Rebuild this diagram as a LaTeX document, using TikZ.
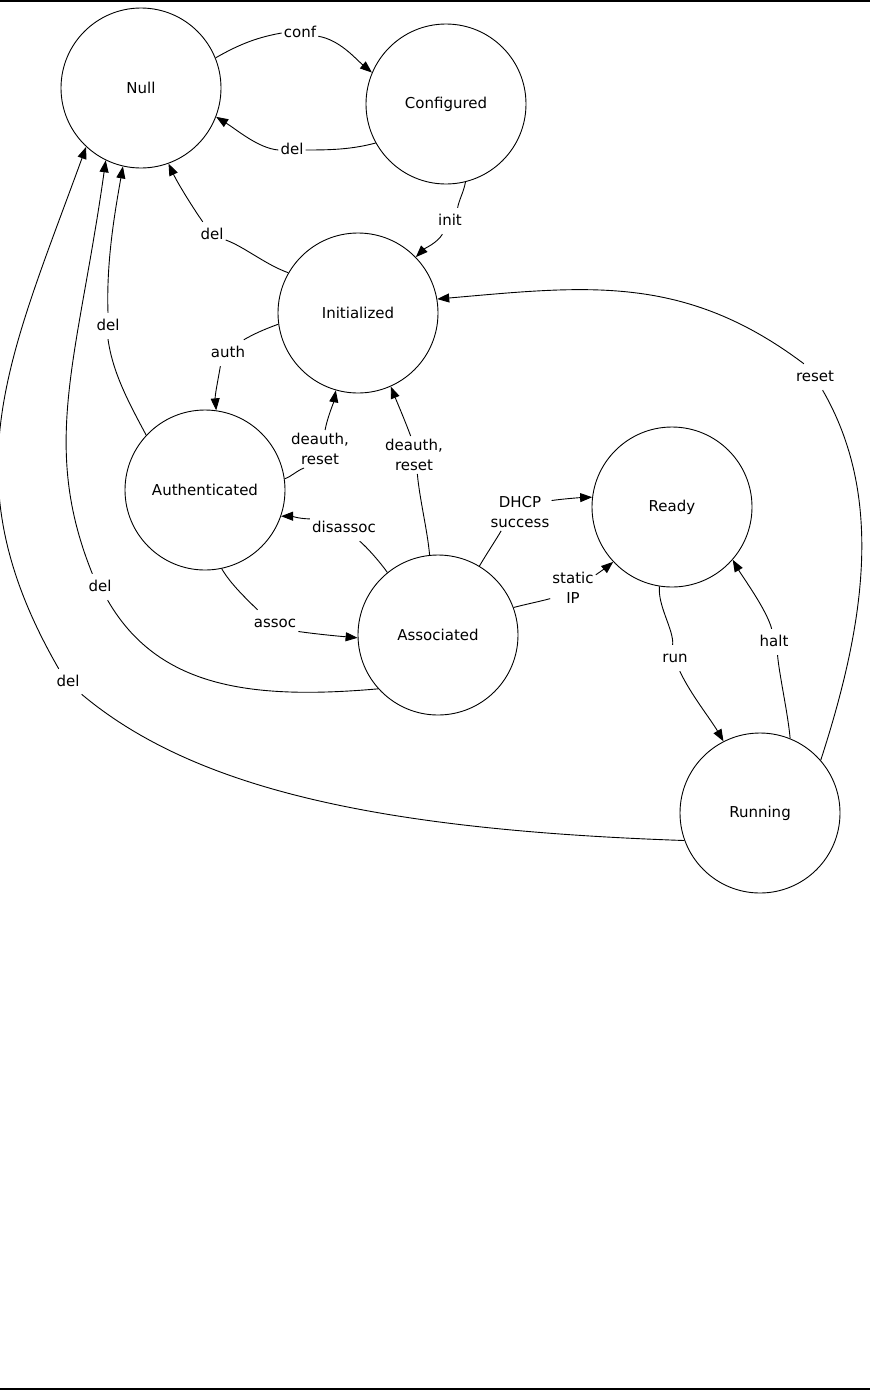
\documentclass[tikz,border=0pt]{standalone}
\usepackage{fontspec}
\setmainfont{DejaVu Sans}
\usetikzlibrary{arrows.meta}
\begin{document}
\begin{tikzpicture}[x=1pt,y=1pt,
  state/.style={draw, circle, minimum size=160pt, inner sep=0pt, line width=0.9pt, font=\fontsize{15}{18}\selectfont},
  lbl/.style={inner xsep=2pt, inner ysep=5pt, text height=12pt, text depth=4pt, font=\fontsize{15}{18}\selectfont},
  lbltwo/.style={inner xsep=2pt, inner ysep=3pt, align=center, font=\fontsize{15}{20}\selectfont},
  edge/.style={line width=0.9pt},
  arr/.style={edge, -{Triangle[length=12pt,width=9pt]}},
]
\useasboundingbox (0,0) rectangle (870,-1390);
\fill (0,0) rectangle (870,-2);
\fill (0,-1388) rectangle (870,-1390);

% states
\node[state] (Null) at (141,-88) {Null};
\node[state] (Configured) at (446,-104) {Configured};
\node[state] (Initialized) at (358,-313) {Initialized};
\node[state] (Authenticated) at (205,-490) {Authenticated};
\node[state] (Associated) at (438,-635) {Associated};
\node[state] (Ready) at (672,-507) {Ready};
\node[state] (Running) at (760,-813) {Running};

% labels
\node[lbl] (lconf) at (300,-33) {conf};
\node[lbl] (ldel1) at (292,-150) {del};
\node[lbl] (linit) at (450,-221) {init};
\node[lbl] (ldel2) at (212,-235) {del};
\node[lbl] (lauth) at (228,-353) {auth};
\node[lbl] (ldel3) at (108,-326) {del};
\node[lbl] (ldel4) at (100,-587) {del};
\node[lbl] (ldel5) at (68,-682) {del};
\node[lbltwo] (ldeauthA) at (320,-449) {deauth,\\reset};
\node[lbltwo] (ldeauthB) at (414,-455) {deauth,\\reset};
\node[lbl] (ldis) at (344,-528) {disassoc};
\node[lbl] (lassoc) at (275,-623) {assoc};
\node[lbltwo] (ldhcp) at (520,-512) {DHCP\\success};
\node[lbltwo] (lstatic) at (573,-588) {static\\IP};
\node[lbl] (lrun) at (675,-658) {run};
\node[lbl] (lhalt) at (774,-642) {halt};
\node[lbl] (lreset) at (815,-377) {reset};

% conf
\draw[edge] (Null.22) .. controls +(30:30) and +(190:22) .. (lconf.west);
\draw[arr] (lconf.-10) .. controls +(-10:22) and +(140:22) .. (Configured.157);
% del Configured -> Null
\draw[edge] (Configured.209) .. controls +(195:25) and +(0:25) .. (ldel1.east);
\draw[arr] (ldel1.west) .. controls +(175:20) and +(-32:25) .. (Null.-21);
% init
\draw[edge] (Configured.-76) .. controls +(-100:10) and +(80:8) .. (linit.60);
\draw[arr] (linit.-120) .. controls +(-120:10) and +(45:12) .. (Initialized.44);
% del Initialized -> Null
\draw[edge] (Initialized.150) .. controls +(160:25) and +(-20:20) .. (ldel2.-20);
\draw[arr] (ldel2.125) .. controls +(125:20) and +(-65:20) .. (Null.-70);
% auth
\draw[edge] (Initialized.188) .. controls +(200:15) and +(30:12) .. (lauth.40);
\draw[arr] (lauth.-120) .. controls +(-100:15) and +(95:15) .. (Authenticated.82);
% del Authenticated -> Null
\draw[edge] (Authenticated.137) .. controls +(118:35) and +(-82:35) .. (ldel3.south);
\draw[arr] (ldel3.north) .. controls +(92:50) and +(-100:50) .. (Null.-103);
% del Associated -> Null
\draw[edge] (Associated.222) .. controls +(185:130) and +(-60:100) .. (ldel4.-60);
\draw[arr] (ldel4.120) .. controls +(112:140) and +(262:200) .. (Null.244);
% del Running -> Null
\draw[edge] (Running.200) .. controls +(178:300) and +(-40:150) .. (ldel5.-42);
\draw[arr] (ldel5.125) .. controls +(120:220) and +(250:230) .. (Null.227);
% deauth, reset Authenticated -> Initialized
\draw[edge] (Authenticated.8) .. controls +(20:8) and +(200:8) .. (ldeauthA.-130);
\draw[arr] (ldeauthA.75) .. controls +(80:12) and +(-100:12) .. (Initialized.254);
% deauth, reset Associated -> Initialized
\draw[edge] (Associated.96) .. controls +(95:25) and +(-85:25) .. (ldeauthB.-80);
\draw[arr] (ldeauthB.100) .. controls +(110:15) and +(-68:15) .. (Initialized.-66);
% disassoc
\draw[edge] (Associated.129) .. controls +(125:12) and +(-40:10) .. (ldis.-40);
\draw[arr] (ldis.165) .. controls +(180:10) and +(0:10) .. (Authenticated.-19);
% assoc
\draw[edge] (Authenticated.-78) .. controls +(-60:18) and +(135:15) .. (lassoc.143);
\draw[arr] (lassoc.-20) .. controls +(-8:20) and +(175:20) .. (Associated.182);
% DHCP success
\draw[edge] (Associated.59) .. controls +(60:12) and +(-120:10) .. (ldhcp.-135);
\draw[arr] (ldhcp.20) .. controls +(8:12) and +(182:12) .. (Ready.173);
% static IP
\draw[edge] (Associated.20) .. controls +(15:12) and +(195:12) .. (lstatic.205);
\draw[arr] (lstatic.30) .. controls +(35:6) and +(220:6) .. (Ready.223);
% run
\draw[edge] (Ready.261) .. controls +(-95:20) and +(85:15) .. (lrun.100);
\draw[arr] (lrun.-70) .. controls +(-65:25) and +(120:25) .. (Running.117);
% halt
\draw[edge] (Running.68) .. controls +(95:25) and +(-85:20) .. (lhalt.-75);
\draw[arr] (lhalt.100) .. controls +(105:20) and +(-60:20) .. (Ready.-41);
% reset Running -> Initialized
\draw[edge] (Running.41) .. controls +(72:150) and +(-60:120) .. (lreset.-60);
\draw[arr] (lreset.130) .. controls +(143:150) and +(5:150) .. (Initialized.10);
\end{tikzpicture}
\end{document}
